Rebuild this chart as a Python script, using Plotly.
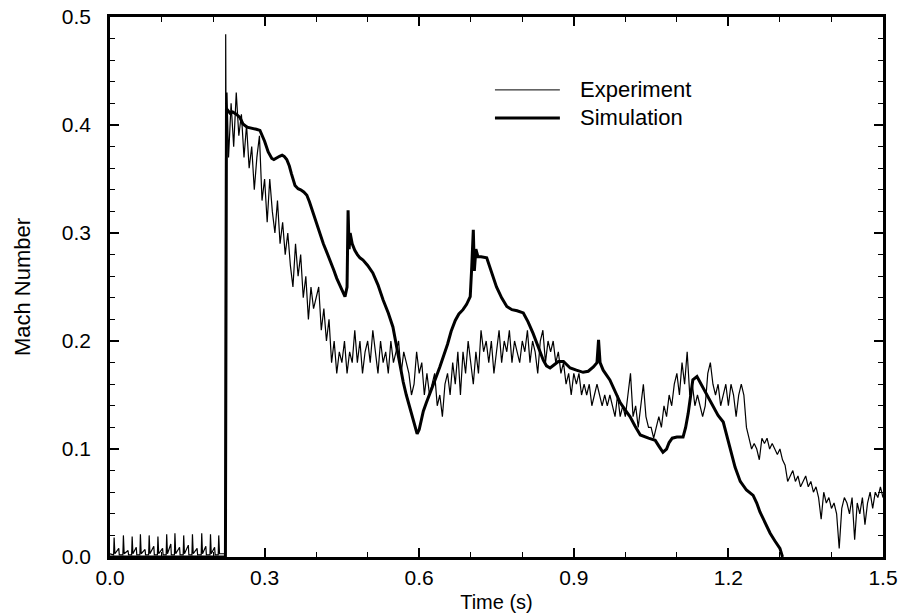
import plotly.graph_objects as go

# ---------------- data ----------------
# pre-onset sensor spikes of the experiment
spike_t = [0.008, 0.026, 0.043, 0.059, 0.076, 0.093, 0.110, 0.126, 0.143, 0.160, 0.178, 0.195, 0.211]
spike_h = [0.018, 0.020, 0.019, 0.021, 0.020, 0.019, 0.021, 0.022, 0.020, 0.021, 0.022, 0.021, 0.020]
small_t = [0.017, 0.035, 0.051, 0.068, 0.085, 0.102, 0.118, 0.135, 0.152, 0.169, 0.186, 0.203]
small_h = [0.008, 0.006, 0.009, 0.007, 0.010, 0.008, 0.012, 0.009, 0.011, 0.008, 0.010, 0.009]

# onset of the experiment
onset_t = [0.2235, 0.2245, 0.2255, 0.2270]
onset_m = [0.003, 0.484, 0.360, 0.430]

# experiment, sampled every 0.005 s from 0.230 s to 1.500 s
exp_start = 0.230
exp_step = 0.005
exp_m = [
    0.37, 0.42, 0.38, 0.43, 0.39,
    0.41, 0.37, 0.40, 0.36, 0.38, 0.34, 0.37, 0.39, 0.33, 0.35,
    0.31, 0.35, 0.32, 0.30, 0.33, 0.29, 0.31, 0.28, 0.30, 0.27,
    0.25, 0.29, 0.26, 0.28, 0.24, 0.26, 0.22, 0.25, 0.23, 0.24,
    0.25, 0.21, 0.23, 0.20, 0.22, 0.18, 0.20, 0.17, 0.19, 0.18,
    0.20, 0.17, 0.19, 0.18, 0.21, 0.18, 0.20, 0.17, 0.19, 0.20,
    0.18, 0.21, 0.19, 0.17, 0.20, 0.18, 0.19, 0.17, 0.20, 0.18,
    0.19, 0.20, 0.17, 0.19, 0.18, 0.17, 0.15, 0.16, 0.19, 0.17,
    0.18, 0.15, 0.17, 0.15, 0.16, 0.17, 0.14, 0.15, 0.13, 0.16,
    0.17, 0.15, 0.18, 0.16, 0.19, 0.15, 0.19, 0.17, 0.20, 0.18,
    0.16, 0.19, 0.17, 0.21, 0.19, 0.20, 0.18, 0.20, 0.17, 0.19,
    0.21, 0.18, 0.20, 0.19, 0.21, 0.18, 0.20, 0.19, 0.18, 0.20,
    0.19, 0.21, 0.18, 0.20, 0.19, 0.17, 0.20, 0.21, 0.18, 0.20,
    0.19, 0.20, 0.18, 0.19, 0.17, 0.18, 0.16, 0.17, 0.15, 0.17,
    0.16, 0.17, 0.15, 0.16, 0.15, 0.16, 0.14, 0.15, 0.16, 0.15,
    0.14, 0.15, 0.14, 0.15, 0.14, 0.13, 0.15, 0.13, 0.14, 0.13,
    0.15, 0.17, 0.13, 0.14, 0.12, 0.14, 0.16, 0.13, 0.12, 0.12,
    0.11, 0.12, 0.13, 0.12, 0.14, 0.13, 0.15, 0.14, 0.16, 0.17,
    0.15, 0.18, 0.16, 0.19, 0.15, 0.16, 0.14, 0.15, 0.14, 0.13,
    0.14, 0.17, 0.18, 0.16, 0.15, 0.16, 0.14, 0.15, 0.16, 0.14,
    0.16, 0.15, 0.13, 0.15, 0.16, 0.15, 0.12, 0.11, 0.10, 0.105,
    0.10, 0.09, 0.11, 0.105, 0.11, 0.10, 0.105, 0.10, 0.095, 0.10,
    0.09, 0.085, 0.07, 0.075, 0.08, 0.07, 0.075, 0.065, 0.07, 0.075,
    0.065, 0.07, 0.06, 0.065, 0.055, 0.035, 0.06, 0.05, 0.055, 0.045,
    0.05, 0.04, 0.008, 0.045, 0.055, 0.05, 0.04, 0.055, 0.016, 0.05,
    0.04, 0.055, 0.03, 0.05, 0.06, 0.045, 0.06, 0.055, 0.065, 0.055,
]

# simulation
sim_t = [0.0, 0.224, 0.226, 0.233, 0.238, 0.245, 0.252, 0.258, 0.266, 0.278,
         0.284, 0.291, 0.296, 0.300, 0.307, 0.314, 0.318, 0.324, 0.329, 0.334,
         0.338, 0.343, 0.348, 0.352, 0.359, 0.365, 0.370, 0.376, 0.382, 0.387,
         0.392, 0.397, 0.402, 0.408, 0.414, 0.420, 0.427, 0.434, 0.440, 0.448,
         0.456, 0.460, 0.461, 0.462, 0.464, 0.466, 0.470, 0.475, 0.480, 0.485,
         0.491, 0.500, 0.510, 0.520, 0.530, 0.540, 0.549, 0.556, 0.563, 0.569,
         0.575, 0.581, 0.586, 0.591, 0.596, 0.600, 0.604, 0.608, 0.614, 0.620,
         0.630, 0.640, 0.648, 0.655, 0.662, 0.670, 0.677, 0.685, 0.692, 0.699,
         0.702, 0.705, 0.707, 0.710, 0.714, 0.720, 0.731, 0.740, 0.750, 0.760,
         0.770, 0.780, 0.790, 0.802, 0.811, 0.821, 0.831, 0.841, 0.847, 0.854,
         0.862, 0.870, 0.880, 0.893, 0.905, 0.918, 0.928, 0.938, 0.945, 0.948,
         0.951, 0.957, 0.970, 0.980, 0.990, 1.000, 1.009, 1.019, 1.029, 1.045,
         1.058, 1.066, 1.073, 1.080, 1.085, 1.091, 1.100, 1.112, 1.117, 1.122,
         1.127, 1.131, 1.139, 1.148, 1.158, 1.164, 1.170, 1.180, 1.190, 1.197,
         1.203, 1.213, 1.223, 1.235, 1.248, 1.255, 1.261, 1.271, 1.281, 1.290,
         1.300, 1.305]
sim_m = [0.0, 0.0, 0.415, 0.411, 0.412, 0.410, 0.407, 0.401, 0.398, 0.397,
         0.396, 0.395, 0.390, 0.385, 0.375, 0.369, 0.368, 0.370, 0.371, 0.372,
         0.371, 0.368, 0.362, 0.355, 0.344, 0.341, 0.340, 0.338, 0.335, 0.329,
         0.322, 0.314, 0.306, 0.298, 0.290, 0.283, 0.275, 0.266, 0.258, 0.250,
         0.241, 0.250, 0.300, 0.321, 0.285, 0.300, 0.290, 0.284, 0.280, 0.277,
         0.275, 0.270, 0.263, 0.252, 0.238, 0.226, 0.213, 0.195, 0.175, 0.162,
         0.150, 0.139, 0.130, 0.121, 0.114, 0.118, 0.126, 0.135, 0.143, 0.150,
         0.163, 0.176, 0.187, 0.197, 0.209, 0.219, 0.225, 0.229, 0.234, 0.241,
         0.269, 0.303, 0.265, 0.285, 0.278, 0.278, 0.277, 0.265, 0.250, 0.240,
         0.232, 0.229, 0.228, 0.226, 0.218, 0.207, 0.194, 0.182, 0.177, 0.175,
         0.178, 0.181, 0.181, 0.175, 0.173, 0.171, 0.172, 0.176, 0.180, 0.201,
         0.180, 0.173, 0.164, 0.154, 0.143, 0.136, 0.130, 0.121, 0.113, 0.110,
         0.108, 0.102, 0.097, 0.100, 0.106, 0.110, 0.111, 0.111, 0.120, 0.133,
         0.150, 0.164, 0.167, 0.159, 0.150, 0.144, 0.139, 0.131, 0.125, 0.112,
         0.099, 0.083, 0.070, 0.062, 0.057, 0.050, 0.042, 0.032, 0.022, 0.015,
         0.008, 0.0]

x_tickvals = [0.0, 0.3, 0.6, 0.9, 1.2, 1.5]
x_ticktext = ["0.0", "0.3", "0.6", "0.9", "1.2", "1.5"]
y_tickvals = [0.0, 0.1, 0.2, 0.3, 0.4, 0.5]
y_ticktext = ["0.0", "0.1", "0.2", "0.3", "0.4", "0.5"]

# ---------------- build experiment trace ----------------
pre = sorted([(t - 0.001, 0.002) for t in spike_t] + list(zip(spike_t, spike_h)) +
             [(t + 0.0015, 0.003) for t in spike_t] + list(zip(small_t, small_h)) +
             [(t + 0.001, 0.002) for t in small_t] + [(0.0, 0.003)])
exp_t_all = [p[0] for p in pre] + onset_t + [round(exp_start + exp_step * i, 4) for i in range(len(exp_m))]
exp_m_all = [p[1] for p in pre] + onset_m + exp_m

FONT = "Liberation Sans, Arial, Helvetica, sans-serif"

fig = go.Figure()
fig.add_trace(go.Scatter(x=exp_t_all, y=exp_m_all, mode="lines", name="Experiment",
                         line=dict(color="black", width=1.2), showlegend=False))
fig.add_trace(go.Scatter(x=sim_t, y=sim_m, mode="lines", name="Simulation",
                         line=dict(color="black", width=3), showlegend=False))

axis_common = dict(showline=True, linecolor="black", linewidth=2.5, mirror="ticks",
                   ticks="inside", tickcolor="black", tickwidth=1.5, ticklen=9,
                   showgrid=False, zeroline=False, automargin=False,
                   ticklabeloverflow="allow",
                   tickfont=dict(family=FONT, size=21, color="black"))

fig.update_xaxes(range=[0, 1.5], tickvals=x_tickvals, ticktext=x_ticktext,
                 minor=dict(dtick=0.1, tick0=0, ticks="inside", ticklen=5, tickwidth=1.2, tickcolor="black"),
                 ticklabelstandoff=0,
                 title=dict(text="Time (s)", font=dict(family=FONT, size=20, color="black"), standoff=8),
                 **axis_common)
fig.update_yaxes(range=[0, 0.5], tickvals=y_tickvals, ticktext=y_ticktext,
                 minor=dict(dtick=0.02, tick0=0, ticks="inside", ticklen=5, tickwidth=1.2, tickcolor="black"),
                 ticklabelstandoff=12,
                 title=dict(text="Mach Number", font=dict(family=FONT, size=22, color="black"), standoff=26),
                 **axis_common)

# manual legend
leg_rows = [("Experiment", 1, 0.865), ("Simulation", 3, 0.813)]
for label, w, yp in leg_rows:
    fig.add_shape(type="line", xref="paper", yref="paper", x0=0.498, x1=0.582, y0=yp, y1=yp,
                  line=dict(color="black", width=w))
    fig.add_annotation(text=label, xref="paper", yref="paper", x=0.605, y=yp, xanchor="left",
                       yanchor="middle", showarrow=False,
                       font=dict(family=FONT, size=22, color="black"))

fig.update_layout(width=903, height=615, margin=dict(l=110, r=20, t=17, b=58),
                  plot_bgcolor="white", paper_bgcolor="white", showlegend=False)

# remove the default page margin so the figure sits at the window's corner
fig.write_html("out.html", config={"displayModeBar": False},
               post_script="document.body.style.margin='0';document.body.style.overflow='hidden';")
